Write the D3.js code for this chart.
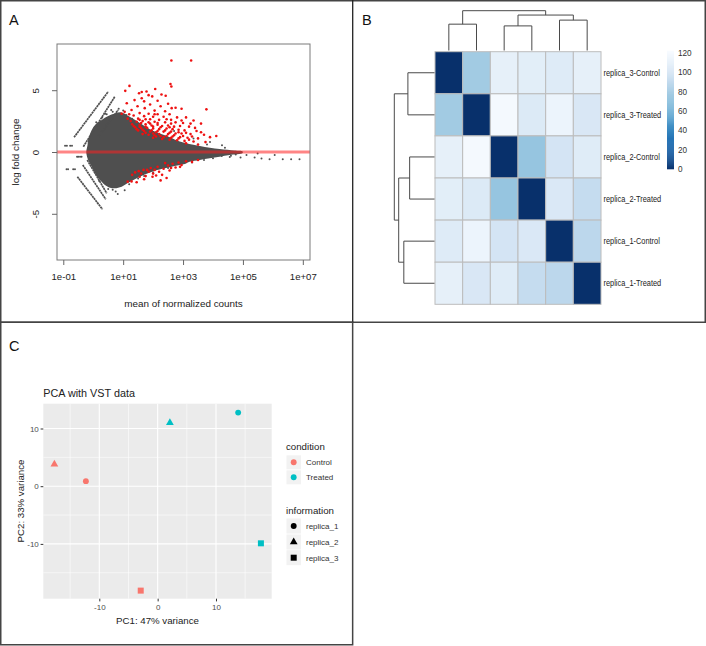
<!DOCTYPE html>
<html><head><meta charset="utf-8">
<script src="https://cdn.jsdelivr.net/npm/d3@7"></script>
<style>
body{margin:0;background:#fff}
svg{display:block}
text{font-family:"Liberation Sans",Arial,Helvetica,sans-serif}
</style>
</head><body>
<svg id="c" width="706" height="646"></svg>
<script>
// ================= DATA =================
// Panel A: MA plot (x = log10 mean of normalized counts, y = log fold change)
const maXTickVals = [-1, 1, 3, 5, 7];
const maXTickLabels = ["1e-01", "1e+01", "1e+03", "1e+05", "1e+07"];
const maYTickVals = [-5, 0, 5];
const maYTickLabels = ["-5", "0", "5"];
// envelope of the dense grey cloud of non-significant genes
const cloudUpper = [[-0.23,0.08],[-0.19,0.57],[-0.17,0.97],[-0.05,1.78],[0.06,2.19],[0.28,2.59],[0.5,2.91],[0.72,3.12],[0.95,3.2],[1.22,2.85],[1.56,2.35],[1.89,1.85],[2.22,1.5],[2.56,1.2],[2.89,0.85],[3.56,0.49],[4.22,0.24],[4.72,0.12],[4.99,0.04]];
const cloudLower = [[-0.23,-0.11],[-0.17,-0.65],[-0.05,-1.19],[0.06,-1.72],[0.17,-2.13],[0.28,-2.4],[0.39,-2.67],[0.56,-2.89],[0.72,-2.94],[0.95,-2.81],[1.17,-2.49],[1.39,-2.21],[1.61,-1.94],[1.83,-1.72],[2.06,-1.51],[2.39,-1.32],[2.72,-1.13],[3.06,-0.97],[3.22,-0.79],[3.56,-0.65],[3.89,-0.51],[4.22,-0.38],[4.56,-0.24],[4.99,-0.08]];
// low-count streaks [log10 mean start, lfc start, log10 mean end, lfc end]
const streaks = [[-0.64,1.19,0.5,4.88],[-0.33,0.43,0.72,4.48],[0.17,1.24,0.83,3.4],[-0.53,-2.0,0.31,-4.64],[-0.35,-1.05,0.42,-3.83],[-0.2,-0.65,0.45,-3.34]];
// isolated grey (non-significant) genes
const nsPoints = [[-0.94,0.51],[-0.88,0.51],[-0.77,0.51],[-0.71,0.51],[-0.89,-1.4],[-0.84,-1.4],[-0.67,-1.4],[-0.61,-1.4],[-0.54,-0.38],[-0.5,-0.38],[-0.44,-0.38],[-0.39,-0.38],
  [0.6,3.4],[0.85,3.5],[1.0,3.35],[0.4,3.1],[0.75,-3.2],[0.82,-3.4],[1.05,-3.1],[3.0,1.3],[3.35,1.1],[3.9,0.8],[4.3,0.55],[2.7,1.7],
  [0.3,2.8],[0.45,3.05],[0.1,2.4],[0.65,3.25],[1.1,3.0],[1.3,2.7],[0.2,-2.35],[0.5,-3.0],[0.65,-3.05],[1.2,-2.6],[1.5,-2.15],[1.7,-1.95],[2.0,-1.65],[2.5,-1.3],[3.3,-0.85],[3.7,-0.65],[4.0,-0.5],[4.4,0.35],[4.6,-0.3],[3.8,0.6],
  [3.96,-0.24],[4.29,-0.32],[4.56,-0.4],[4.76,-0.2],[4.92,-0.45],[5.12,-0.24],[5.39,-0.45],[5.49,-0.12],[5.62,-0.53],[5.89,-0.59],[6.06,-0.24],[6.33,-0.59],[6.61,-0.59],[6.89,-0.59]];
// significant genes (red)
const sigPoints = [[2.61,7.4],[3.27,7.4],[2.58,5.5],[2.61,5.3],[1.07,4.95],[1.21,5.35],[2.07,5.1],
  [1.53,4.75],[1.62,4.85],[1.78,4.9],[1.85,4.6],[1.97,4.5],[2.28,4.65],[2.42,4.55],[1.62,4.35],[1.38,4.2],[2.15,4.15],[1.7,4.1],
  [1.12,3.95],[1.9,3.85],[2.5,3.9],[1.48,3.7],[2.25,3.7],[1.72,3.55],[2.62,3.55],[2.75,3.58],[2.95,3.5],[3.78,3.45],[1.28,3.4],[2.05,3.35],[2.4,3.3],[1.05,3.25],
  [1.55,3.15],[1.85,3.1],[2.15,3.05],[2.55,3.05],[1.35,2.95],[1.7,2.9],[2.0,2.85],[2.35,2.85],[2.8,2.8],[3.1,2.8],[1.15,2.7],[1.5,2.7],[1.9,2.65],[2.2,2.6],[2.6,2.6],[3.35,2.55],
  [1.25,2.5],[1.45,2.45],[1.65,2.5],[1.85,2.4],[2.05,2.45],[2.4,2.4],[2.75,2.4],[3.0,2.35],[3.6,2.3],
  [1.3,2.25],[1.55,2.2],[1.75,2.25],[1.95,2.15],[2.15,2.2],[2.3,2.1],[2.5,2.15],[2.9,2.1],[3.2,2.05],
  [1.4,2.0],[1.6,1.95],[1.8,1.95],[2.0,1.9],[2.2,1.85],[2.45,1.9],[2.65,1.85],[2.85,1.8],[3.05,1.75],[3.45,1.7],
  [1.5,1.75],[1.7,1.7],[1.9,1.65],[2.1,1.6],[2.35,1.65],[2.55,1.55],[2.75,1.5],[2.95,1.5],[3.25,1.45],[3.7,1.4],[4.11,1.3],
  [1.65,1.45],[1.85,1.4],[2.05,1.35],[2.25,1.3],[2.45,1.3],[2.65,1.25],[2.9,1.2],[3.15,1.15],[3.5,1.1],
  [2.0,1.15],[2.3,1.05],[2.55,1.0],[2.8,0.95],[3.05,0.9],[3.35,0.85],[3.75,0.8],[3.1,0.7],[3.5,0.6],
  [1.35,2.1],[1.55,2.05],[1.75,2.05],[2.0,2.05],[2.25,2.0],[2.55,2.0],[2.7,2.05],[1.45,1.85],[1.65,1.8],[1.95,1.75],[2.15,1.7],[2.4,1.75],[2.6,1.65],[2.85,1.6],[3.1,1.55],[1.75,1.55],[2.0,1.5],[2.2,1.45],[2.5,1.45],[2.7,1.35],[3.0,1.3],[3.3,1.25],[2.1,1.25],[2.35,1.2],[2.6,1.15],[2.85,1.1],[1.6,2.35],[1.9,2.3],[2.15,2.35],[2.6,2.3],[2.95,2.55],[3.25,2.3],[3.4,1.95],[3.6,1.6],[3.9,1.2],[3.2,1.0],[1.55,2.6],[1.75,2.65],[2.45,2.65],[2.05,3.05],[1.2,3.05],[0.95,3.1],
  [1.15,-2.4],[1.28,-2.38],[1.45,-2.45],[1.3,-1.85],[1.52,-1.55],[1.6,-1.75],[1.68,-1.45],[1.75,-1.95],[1.85,-1.6],[1.92,-1.3],[2.0,-1.75],[2.05,-1.45],[2.15,-1.2],[2.2,-1.6],[2.3,-1.85],[2.35,-1.35],[2.45,-2.1],[2.5,-1.1],[2.55,-1.5],[2.65,-0.95],[2.75,-1.25],[2.85,-0.85],[2.95,-1.05],[3.1,-0.75],[3.3,-0.8],[1.4,-1.65],[1.98,-2.0],[2.4,-0.9],[3.5,-0.65],
  [1.55,-2.0],[1.8,-1.45],[2.1,-1.9],[2.6,-1.3],[2.9,-1.2],[1.7,-2.2],[2.25,-2.3]];

// Panel B: sample distance heatmap
const sampleNames = ["replica_3-Control","replica_3-Treated","replica_2-Control","replica_2-Treated","replica_1-Control","replica_1-Treated"];
const distRow1 = [0,78,111,109,106,111];
const distRow2 = [78,0,120,105,115,103];
const distRow3 = [111,120,0,74,100,107];
const distRow4 = [109,105,74,0,104,92];
const distRow5 = [106,115,100,104,0,88];
const distRow6 = [111,103,107,92,88,0];
const distMax = 121.6;
const legendTicks = [0,20,40,60,80,100,120];
// dendrogram: merges [childA, childB, height]; leaves 0..5, internal nodes 6..
const dendroMerges = [[0,1,26],[2,3,24.3],[4,5,30],[7,8,35],[6,9,39.3]];

// Panel C: PCA
const pcaSamples = ["replica_1","replica_2","replica_3","replica_1","replica_2","replica_3"];
const pcaCondition = ["Control","Control","Control","Treated","Treated","Treated"];
const pc1 = [-12.3,-17.7,-2.9,13.8,2.1,17.7];
const pc2 = [0.87,3.8,-18.1,12.76,11.0,-9.9];
const pcaTicks = [-10,0,10];
const pcaTickLabels = ["-10","0","10"];
const conditionLevels = ["Control","Treated"];
const infoLevels = ["replica_1","replica_2","replica_3"];

// ================= DRAW =================
const FONT = '"Liberation Sans",Arial,Helvetica,sans-serif';
const svg = d3.select("#c");

// ---------- Panel A ----------
const gA = svg.append("g");
const xA = d3.scaleLog().domain([Math.pow(10,-1.21), Math.pow(10,7.24)]).range([57,310]);
const yA = d3.scaleLinear().domain([-8.74,8.74]).range([260,44]);
const pxA = d => xA(Math.pow(10,d[0])), pyA = d => yA(d[1]);

gA.append("defs").append("clipPath").attr("id","clipA").append("rect")
  .attr("x",57).attr("y",44).attr("width",253).attr("height",216);
const plotA = gA.append("g").attr("clip-path","url(#clipA)");

plotA.append("path")
  .attr("d", d3.line().x(pxA).y(pyA).curve(d3.curveCatmullRomClosed.alpha(0.5))(cloudUpper.concat(cloudLower.slice().reverse())))
  .attr("fill","#4f4f4f");
plotA.selectAll("line.streak").data(streaks).join("line").attr("class","streak")
  .attr("x1",d=>xA(Math.pow(10,d[0]))).attr("y1",d=>yA(d[1]))
  .attr("x2",d=>xA(Math.pow(10,d[2]))).attr("y2",d=>yA(d[3]))
  .attr("stroke","#4f4f4f").attr("stroke-width",1.7).attr("stroke-dasharray","2.2,0.5");
plotA.selectAll("circle.ns").data(nsPoints).join("circle").attr("class","ns")
  .attr("cx",pxA).attr("cy",pyA).attr("r",1).attr("fill","#505050");
plotA.selectAll("circle.sig").data(sigPoints).join("circle").attr("class","sig")
  .attr("cx",pxA).attr("cy",pyA).attr("r",1.3).attr("fill","#ee1111");
plotA.append("line").attr("x1",57).attr("x2",310).attr("y1",yA(0)).attr("y2",yA(0))
  .attr("stroke","#ff2020").attr("stroke-opacity",0.55).attr("stroke-width",3);
gA.append("rect").attr("x",57).attr("y",44).attr("width",253).attr("height",216)
  .attr("fill","none").attr("stroke","#7a7a7a").attr("stroke-width",1);

gA.append("g").attr("transform","translate(0,260)")
  .call(d3.axisBottom(xA).tickValues(maXTickVals.map(v=>Math.pow(10,v)))
    .tickFormat((d,i)=>maXTickLabels[i]).tickSize(5).tickPadding(8))
  .call(g=>{g.select(".domain").remove();
    g.attr("font-family",FONT).attr("font-size",9.6);
    g.selectAll("line").attr("stroke","#666");
    g.selectAll("text").attr("fill","#222");});
gA.append("g").attr("transform","translate(57,0)")
  .call(d3.axisLeft(yA).tickValues(maYTickVals).tickFormat((d,i)=>maYTickLabels[i]).tickSize(5))
  .call(g=>{g.select(".domain").remove();
    g.attr("font-family",FONT).attr("font-size",9.6);
    g.selectAll("line").attr("stroke","#666");
    g.selectAll("text").attr("fill","#222").attr("x",null).attr("dy",null)
      .attr("text-anchor","middle").attr("transform","translate(-21,0) rotate(-90)").attr("dy","0.35em");});
gA.append("text").attr("x",183.5).attr("y",306.5).attr("text-anchor","middle")
  .attr("font-size",9.9).attr("fill","#222").text("mean of normalized counts");
gA.append("text").attr("transform","translate(18.5,152) rotate(-90)").attr("text-anchor","middle")
  .attr("font-size",9.9).attr("fill","#222").text("log fold change");

// ---------- Panel B ----------
const gB = svg.append("g");
const distMatrix = [distRow1,distRow2,distRow3,distRow4,distRow5,distRow6];
const xB = d3.scaleBand().domain(d3.range(6)).range([435,601]);
const yB = d3.scaleBand().domain(d3.range(6)).range([51.7,304.3]);
const colB = v => d3.interpolateBlues(1 - v/distMax);
const cells = [];
distMatrix.forEach((row,i)=>row.forEach((v,j)=>cells.push({i,j,v})));
gB.selectAll("rect.cell").data(cells).join("rect").attr("class","cell")
  .attr("x",d=>xB(d.j)).attr("y",d=>yB(d.i)).attr("width",xB.bandwidth()).attr("height",yB.bandwidth())
  .attr("fill",d=>colB(d.v)).attr("stroke","#bcbcbc").attr("stroke-width",1);
gB.selectAll("text.rowlab").data(sampleNames).join("text").attr("class","rowlab")
  .attr("transform",(d,i)=>`translate(603.5,${yB(i)+yB.bandwidth()/2}) scale(0.86,1)`)
  .attr("dy","0.35em").attr("font-size",8.6).attr("fill","#222").text(d=>d);

// dendrograms
function buildDendro(merges, leafPos){
  const pos = leafPos.slice(), h = leafPos.map(()=>0), segs = [];
  merges.forEach(([a,b,ht])=>{
    segs.push({p1:pos[a],h1:h[a],p2:pos[a],h2:ht});
    segs.push({p1:pos[b],h1:h[b],p2:pos[b],h2:ht});
    segs.push({p1:pos[a],h1:ht,p2:pos[b],h2:ht});
    pos.push((pos[a]+pos[b])/2); h.push(ht);
  });
  return segs;
}
const rootH = d3.max(dendroMerges,d=>d[2]);
const colH = d3.scaleLinear().domain([0,rootH]).range([50.5,10.7]);
const rowH = d3.scaleLinear().domain([0,rootH]).range([434.5,394.3]);
const colSegs = buildDendro(dendroMerges, d3.range(6).map(i=>xB(i)+xB.bandwidth()/2));
const rowSegs = buildDendro(dendroMerges, d3.range(6).map(i=>yB(i)+yB.bandwidth()/2));
gB.selectAll("line.cd").data(colSegs).join("line").attr("class","cd")
  .attr("x1",d=>d.p1).attr("x2",d=>d.p2).attr("y1",d=>colH(d.h1)).attr("y2",d=>colH(d.h2))
  .attr("stroke","#4a4a4a").attr("stroke-width",1);
gB.selectAll("line.rd").data(rowSegs).join("line").attr("class","rd")
  .attr("y1",d=>d.p1).attr("y2",d=>d.p2).attr("x1",d=>rowH(d.h1)).attr("x2",d=>rowH(d.h2))
  .attr("stroke","#4a4a4a").attr("stroke-width",1);

// color legend
const yL = d3.scaleLinear().domain([0,distMax]).range([169,51.7]);
const legSteps = d3.range(0,distMax,distMax/120);
gB.selectAll("rect.leg").data(legSteps).join("rect").attr("class","leg")
  .attr("x",667).attr("width",7).attr("y",d=>yL(d+distMax/120)).attr("height",yL(0)-yL(distMax/120)+0.3)
  .attr("fill",d=>colB(d+distMax/240));
gB.selectAll("text.legt").data(legendTicks).join("text").attr("class","legt")
  .attr("x",678).attr("y",d=>yL(d)).attr("dy","0.35em").attr("font-size",8.2).attr("fill","#333").text(d=>d);

// ---------- Panel C ----------
const gC = svg.append("g");
const xC = d3.scaleLinear().domain([-19.6,19.55]).range([43.3,271.7]);
const yC = d3.scaleLinear().domain([-19.5,14.3]).range([598.7,403.7]);
gC.append("rect").attr("x",43.3).attr("y",403.7).attr("width",228.4).attr("height",195).attr("fill","#ebebeb");
const minorX = [-15,-5,5,15], minorY = [-15,-5,5];
gC.selectAll("line.mx").data(minorX).join("line").attr("x1",d=>xC(d)).attr("x2",d=>xC(d)).attr("y1",403.7).attr("y2",598.7).attr("stroke","#fff").attr("stroke-width",0.55);
gC.selectAll("line.my").data(minorY).join("line").attr("y1",d=>yC(d)).attr("y2",d=>yC(d)).attr("x1",43.3).attr("x2",271.7).attr("stroke","#fff").attr("stroke-width",0.55);
gC.selectAll("line.Mx").data(pcaTicks).join("line").attr("x1",d=>xC(d)).attr("x2",d=>xC(d)).attr("y1",403.7).attr("y2",598.7).attr("stroke","#fff").attr("stroke-width",1.1);
gC.selectAll("line.My").data(pcaTicks).join("line").attr("y1",d=>yC(d)).attr("y2",d=>yC(d)).attr("x1",43.3).attr("x2",271.7).attr("stroke","#fff").attr("stroke-width",1.1);

const condColor = d3.scaleOrdinal().domain(conditionLevels).range(["#F8766D","#00BFC4"]);
const shapeScale = d3.scaleOrdinal().domain(infoLevels).range([d3.symbolCircle,d3.symbolTriangle,d3.symbolSquare]);
const sizeScale = d3.scaleOrdinal().domain(infoLevels).range([27,26,36]);
const pca = pc1.map((x,i)=>({x, y:pc2[i], s:pcaSamples[i], c:pcaCondition[i]}));
gC.selectAll("path.pt").data(pca).join("path").attr("class","pt")
  .attr("transform",d=>`translate(${xC(d.x)},${yC(d.y)})`)
  .attr("d",d=>d3.symbol(shapeScale(d.s), sizeScale(d.s))())
  .attr("fill",d=>condColor(d.c));

gC.append("g").attr("transform","translate(0,598.7)")
  .call(d3.axisBottom(xC).tickValues(pcaTicks).tickFormat((d,i)=>pcaTickLabels[i]).tickSize(2.7).tickPadding(3))
  .call(g=>{g.select(".domain").remove(); g.attr("font-family",FONT).attr("font-size",8);
    g.selectAll("line").attr("stroke","#333"); g.selectAll("text").attr("fill","#4d4d4d");});
gC.append("g").attr("transform","translate(43.3,0)")
  .call(d3.axisLeft(yC).tickValues(pcaTicks).tickFormat((d,i)=>pcaTickLabels[i]).tickSize(2.7).tickPadding(1.8))
  .call(g=>{g.select(".domain").remove(); g.attr("font-family",FONT).attr("font-size",8);
    g.selectAll("line").attr("stroke","#333"); g.selectAll("text").attr("fill","#4d4d4d");});
gC.append("text").attr("x",157.5).attr("y",623.5).attr("text-anchor","middle").attr("font-size",9.7).attr("fill","#222").text("PC1: 47% variance");
gC.append("text").attr("transform","translate(23.5,501) rotate(-90)").attr("text-anchor","middle").attr("font-size",9.7).attr("fill","#222").text("PC2: 33% variance");
gC.append("text").attr("x",43.3).attr("y",397).attr("font-size",10.8).attr("fill","#222").text("PCA with VST data");

// legends
gC.append("text").attr("x",286).attr("y",449.5).attr("font-size",9.7).attr("fill","#222").text("condition");
const condY = [462.3,477.3];
conditionLevels.forEach((c,i)=>{
  gC.append("rect").attr("x",286.5).attr("y",condY[i]-7).attr("width",14.5).attr("height",14).attr("fill","#f2f2f2");
  gC.append("path").attr("transform",`translate(293.7,${condY[i]})`).attr("d",d3.symbol(d3.symbolCircle,27)()).attr("fill",condColor(c));
  gC.append("text").attr("x",306).attr("y",condY[i]).attr("dy","0.35em").attr("font-size",8).attr("fill","#333").text(c);
});
gC.append("text").attr("x",286).attr("y",513.8).attr("font-size",9.7).attr("fill","#222").text("information");
const infoY = [526,542,557.7];
infoLevels.forEach((s,i)=>{
  gC.append("rect").attr("x",286.5).attr("y",infoY[i]-7.5).attr("width",14.5).attr("height",15).attr("fill","#f2f2f2");
  gC.append("path").attr("transform",`translate(293.7,${infoY[i]})`).attr("d",d3.symbol(shapeScale(s),sizeScale(s))()).attr("fill","#000");
  gC.append("text").attr("x",306).attr("y",infoY[i]).attr("dy","0.35em").attr("font-size",8).attr("fill","#333").text(s);
});

// ---------- frames & panel letters ----------
svg.append("rect").attr("x",0.75).attr("y",0.75).attr("width",704.5).attr("height",321.5).attr("fill","none").attr("stroke","#444").attr("stroke-width",1.5);
svg.append("line").attr("x1",352.7).attr("x2",352.7).attr("y1",0).attr("y2",322.5).attr("stroke","#222").attr("stroke-width",1.3);
svg.append("rect").attr("x",0.75).attr("y",322.25).attr("width",351.9).attr("height",322.5).attr("fill","none").attr("stroke","#444").attr("stroke-width",1.5);
svg.append("text").attr("x",9).attr("y",25).attr("font-size",14.5).attr("fill","#111").text("A");
svg.append("text").attr("x",362).attr("y",25).attr("font-size",14.5).attr("fill","#111").text("B");
svg.append("text").attr("x",9).attr("y",351.3).attr("font-size",14.5).attr("fill","#111").text("C");
</script>
</body></html>
